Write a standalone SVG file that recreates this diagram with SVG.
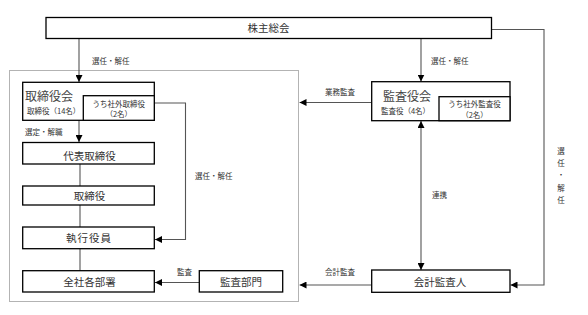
<svg xmlns="http://www.w3.org/2000/svg" width="588" height="315" viewBox="0 0 588 315">
<style>
text{font-family:"Noto Sans CJK JP","Noto Sans",sans-serif;fill:#333;}
.box{fill:#fff;stroke:#000;stroke-width:1.3;}
.t{font-size:10.5px;text-anchor:middle;}
.big{font-size:12px;fill:#444;}
.sm{font-size:7.5px;}
.lbl{font-size:7.5px;}
.c{fill:none;stroke:#555;stroke-width:1.1;}
.dot{fill:none;stroke:#666;stroke-width:1;stroke-dasharray:1 1;}
</style>
<defs>
<marker id="ah" viewBox="0 0 10 10" refX="10" refY="5" markerWidth="7" markerHeight="7" markerUnits="userSpaceOnUse" orient="auto-start-reverse">
<path d="M0,0 L10,5 L0,10 z" fill="#000"/>
</marker>
</defs>
<rect class="dot" x="9.5" y="70.5" width="289" height="231"/>
<g id="connectors">
<line class="c" x1="79" y1="38" x2="79" y2="82" marker-end="url(#ah)"/>
<text class="lbl" x="92" y="64">選任・解任</text>
<line class="c" x1="421" y1="38" x2="421" y2="81.5" marker-end="url(#ah)"/>
<text class="lbl" x="431" y="64">選任・解任</text>
<line class="c" x1="79" y1="120" x2="79" y2="142" marker-end="url(#ah)"/>
<text class="lbl" x="25" y="135">選定・解職</text>
<line class="c" x1="80" y1="164" x2="80" y2="186"/>
<line class="c" x1="80" y1="205" x2="80" y2="227"/>
<line class="c" x1="80" y1="249" x2="80" y2="271"/>
<polyline class="c" points="154.5,103 185.5,103 185.5,239.5 155,239.5" marker-end="url(#ah)"/>
<text class="lbl" x="195" y="179">選任・解任</text>
<line class="c" x1="199" y1="282.5" x2="155" y2="282.5" marker-end="url(#ah)"/>
<text class="lbl" x="177" y="275">監査</text>
<line class="c" x1="371.5" y1="102.5" x2="299.5" y2="102.5" marker-end="url(#ah)"/>
<text class="lbl" x="325" y="95">業務監査</text>
<line class="c" x1="421" y1="121" x2="421" y2="270" marker-start="url(#ah)" marker-end="url(#ah)"/>
<text class="lbl" x="432" y="198">連携</text>
<line class="c" x1="371.5" y1="285" x2="299.5" y2="285" marker-end="url(#ah)"/>
<text class="lbl" x="325" y="275">会計監査</text>
<polyline class="c" points="491.5,29.5 544,29.5 544,285 510.5,285" marker-end="url(#ah)"/>
<g class="lbl" text-anchor="middle">
<text x="561" y="154">選</text>
<text x="561" y="166">任</text>
<text x="561" y="178">・</text>
<text x="561" y="191">解</text>
<text x="561" y="203">任</text>
</g>
</g>
<g id="shareholders">
<rect class="box" x="46" y="17.5" width="445.5" height="21"/>
<text class="t" x="268.5" y="32">株主総会</text>
</g>
<g id="board">
<rect class="box" x="22.7" y="82.3" width="131.6" height="38"/>
<text class="big" x="25" y="101">取締役会</text>
<text class="sm" x="27" y="113.5">取締役（14名）</text>
</g>
<g id="outside-directors">
<rect class="box" x="83.3" y="95.7" width="71" height="24.6"/>
<text class="sm" x="118.8" y="106.5" text-anchor="middle">うち社外取締役</text>
<text class="sm" x="118.8" y="117" text-anchor="middle">（2名）</text>
</g>
<g id="representative">
<rect class="box" x="22.7" y="142.5" width="131.6" height="21.5"/>
<text class="t" x="89.5" y="160">代表取締役</text>
</g>
<g id="directors">
<rect class="box" x="22.7" y="186" width="131.6" height="19"/>
<text class="t" x="89.5" y="199.5">取締役</text>
</g>
<g id="officers">
<rect class="box" x="22.7" y="227" width="131.6" height="21.7"/>
<text class="t" x="89" y="242" letter-spacing="1">執行役員</text>
</g>
<g id="departments">
<rect class="box" x="22.7" y="270.7" width="131.6" height="21.3"/>
<text class="t" x="89.5" y="285.5">全社各部署</text>
</g>
<g id="audit-dept">
<rect class="box" x="199.3" y="270.7" width="83.4" height="21.3"/>
<text class="t" x="241" y="285.5">監査部門</text>
</g>
<g id="audit-board">
<rect class="box" x="371.7" y="81.7" width="138.3" height="39"/>
<text class="big" x="407" y="101" text-anchor="middle">監査役会</text>
<text class="sm" x="405.5" y="113.5" text-anchor="middle">監査役（4名）</text>
</g>
<g id="outside-auditors">
<rect class="box" x="439" y="96.7" width="71" height="24"/>
<text class="sm" x="474.5" y="107" text-anchor="middle">うち社外監査役</text>
<text class="sm" x="474.5" y="117.5" text-anchor="middle">（2名）</text>
</g>
<g id="accounting-auditor">
<rect class="box" x="371.7" y="270" width="138.3" height="22.3"/>
<text class="t" x="440" y="285.5">会計監査人</text>
</g>
</svg>
